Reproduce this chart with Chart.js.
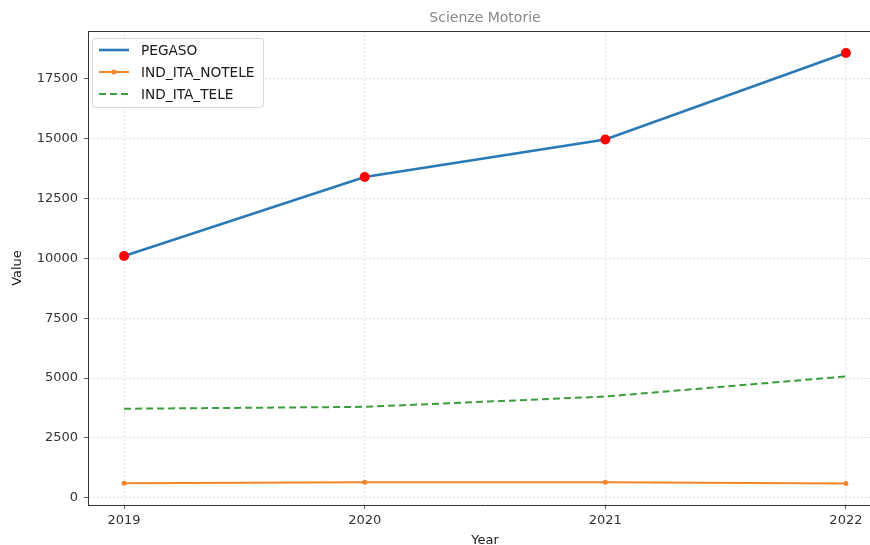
<!DOCTYPE html>
<html>
<head>
<meta charset="utf-8">
<script src="https://cdn.jsdelivr.net/npm/chart.js@4"></script>
<style>
html,body{margin:0;padding:0;background:#fff;overflow:hidden;}
#wrap{width:900px;height:560px;}
canvas{display:block;}
</style>
</head>
<body>
<div id="wrap"><canvas id="c" width="900" height="560" style="width:900px;height:560px"></canvas></div>
<script>
const chartTitle = 'Scienze Motorie';
const years = [2019, 2020, 2021, 2022];
const pegaso = [10100, 13400, 14970, 18580];
const indItaNotele = [610, 650, 650, 600];
const indItaTele = [3720, 3800, 4230, 5070];
const seriesNames = ['PEGASO', 'IND_ITA_NOTELE', 'IND_ITA_TELE'];
const yTicks = [0, 2500, 5000, 7500, 10000, 12500, 15000, 17500];

const FONT = 'DejaVu Sans';
const toXY = arr => years.map((y, i) => ({x: y, y: arr[i]}));

const frame = {
  id: 'frame',
  afterDraw(chart) {
    const {ctx, chartArea: a} = chart;
    ctx.save();
    ctx.strokeStyle = '#333';
    ctx.lineWidth = 1;
    ctx.beginPath();
    ctx.moveTo(a.left, a.top + 0.5);
    ctx.lineTo(a.right, a.top + 0.5);
    ctx.stroke();
    // legend
    const lx = 92, ly = 38, lw = 171, lh = 69;
    ctx.fillStyle = 'rgba(255,255,255,0.85)';
    ctx.strokeStyle = '#d5d5d5';
    ctx.beginPath();
    ctx.roundRect(lx + 0.5, ly + 0.5, lw, lh, 3);
    ctx.fill();
    ctx.stroke();
    const ds = chart.data.datasets;
    ds.forEach((d, i) => {
      const y = 50 + i * 22;
      ctx.strokeStyle = d.borderColor;
      ctx.lineWidth = d.borderWidth;
      ctx.setLineDash(d.borderDash || []);
      ctx.beginPath();
      ctx.moveTo(99, y); ctx.lineTo(129, y);
      ctx.stroke();
      ctx.setLineDash([]);
      if (i === 1) {
        ctx.fillStyle = d.borderColor;
        ctx.beginPath(); ctx.arc(114, y, 2.5, 0, Math.PI * 2); ctx.fill();
      }
      ctx.fillStyle = '#1a1a1a';
      ctx.font = '13.7px "' + FONT + '"';
      ctx.textBaseline = 'middle';
      ctx.textAlign = 'left';
      ctx.fillText(d.label, 141, y + 1);
    });
    ctx.restore();
  }
};

const bg = {
  id: 'bg',
  beforeDraw(chart) {
    const {ctx} = chart;
    ctx.save(); ctx.fillStyle = '#fff'; ctx.fillRect(0, 0, chart.width, chart.height); ctx.restore();
  }
};

new Chart(document.getElementById('c'), {
  type: 'line',
  data: {
    datasets: [
      {label: seriesNames[0], data: toXY(pegaso), borderColor: '#2a7ab5', borderWidth: 2.6,
       pointRadius: 5, pointBackgroundColor: '#ff0000', pointBorderColor: '#ff0000', pointBorderWidth: 0},
      {label: seriesNames[1], data: toXY(indItaNotele), borderColor: '#f5852a', borderWidth: 2,
       pointRadius: 2.5, pointBackgroundColor: '#f5852a', pointBorderColor: '#f5852a', pointBorderWidth: 0},
      {label: seriesNames[2], data: toXY(indItaTele), borderColor: '#3a9e3a', borderWidth: 2,
       borderDash: [7, 4], pointRadius: 0}
    ]
  },
  options: {
    responsive: false,
    animation: false,
    devicePixelRatio: 1,
    layout: {padding: {left: 0, right: 18, top: 0, bottom: 0}},
    plugins: {
      legend: {display: false},
      tooltip: {enabled: false},
      title: {display: true, fullSize: false, text: chartTitle, color: '#888',
        font: {family: FONT, size: 14, weight: 'normal'}, padding: {top: 10, bottom: 4.2}}
    },
    scales: {
      x: {
        type: 'linear', min: 2018.85, max: 2022.15,
        afterBuildTicks: s => { s.ticks = years.map(v => ({value: v})); },
        ticks: {callback: v => String(v), color: '#333', font: {family: FONT, size: 13}, padding: 4, maxRotation: 0},
        grid: {color: '#d8d8d8', tickColor: '#333', tickLength: 4, lineWidth: 0.8},
        border: {color: '#333', width: 1, dash: [2, 2]},
        title: {display: true, text: 'Year', color: '#222', font: {family: FONT, size: 13}, padding: {top: 0, bottom: 12}},
        afterFit: s => { s.height = 55; }
      },
      y: {
        type: 'linear', min: -300, max: 19500,
        afterBuildTicks: s => { s.ticks = yTicks.map(v => ({value: v})); },
        ticks: {callback: v => String(v), color: '#333', font: {family: FONT, size: 13}, padding: 6},
        grid: {color: '#d8d8d8', tickColor: '#333', tickLength: 4, lineWidth: 0.8},
        border: {color: '#333', width: 1, dash: [2, 2]},
        title: {display: true, text: 'Value', color: '#222', font: {family: FONT, size: 13}, padding: {top: 10, bottom: 0}},
        afterFit: s => { s.width = 88; }
      }
    }
  },
  plugins: [bg, frame]
});
</script>
</body>
</html>
